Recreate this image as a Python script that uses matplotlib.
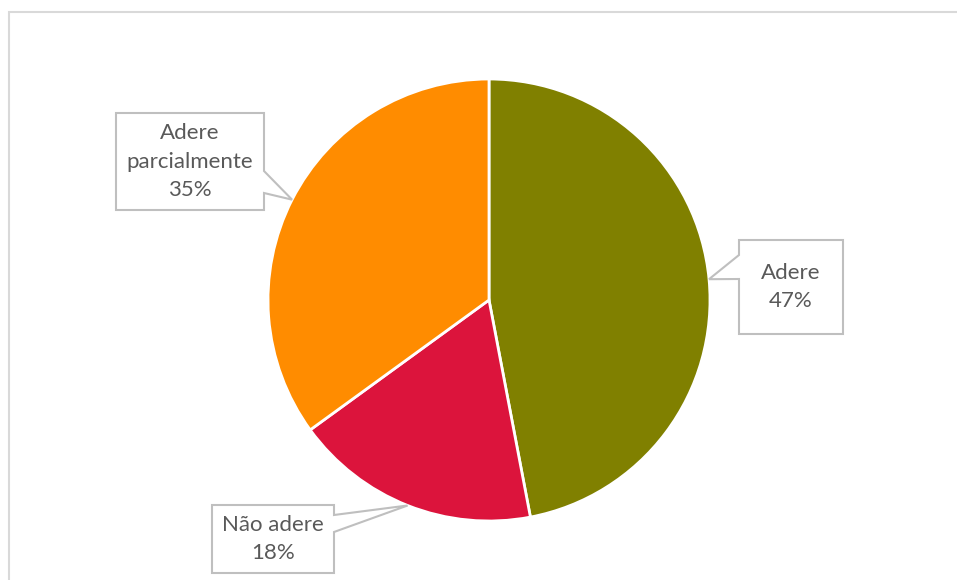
import numpy as np
import matplotlib.pyplot as plt
from matplotlib.patches import Polygon, Rectangle

labels = ["Adere", "Não adere", "Adere\nparcialmente"]
values = [47, 18, 35]
colors = ["#808000", "#DC143C", "#FF8C00"]

W, H = 957, 580
cx, cy, r = 489, H - 300, 221

fig = plt.figure(figsize=(W / 100, H / 100), dpi=100)
ax = fig.add_axes([0, 0, 1, 1])

wedges, _ = ax.pie(values, colors=colors, startangle=90, counterclock=False,
                   center=(cx, cy), radius=r,
                   wedgeprops=dict(edgecolor="white", linewidth=2))

# pie() resets the view, so fix the pixel frame afterwards
ax.set_xlim(0, W)
ax.set_ylim(0, H)
ax.set_aspect("equal")
ax.axis("off")

# chart frame
ax.add_patch(Rectangle((9, -10), W + 10 - 9, H - 12 + 10, fill=False,
                       edgecolor="#d9d9d9", lw=1.5))


def callout(box, tip, side, base):
    # box = (x0, y0, x1, y1) in pixel coords from top; base = span on the side
    x0, y0, x1, y1 = box
    a, b = base
    if side == "left":
        pts = [(x0, y0), (x1, y0), (x1, y1), (x0, y1), (x0, b), tip, (x0, a)]
    else:
        pts = [(x0, y0), (x1, y0), (x1, a), tip, (x1, b), (x1, y1), (x0, y1)]
    pts = [(px, H - py) for px, py in pts]
    ax.add_patch(Polygon(pts, closed=True, facecolor="white",
                         edgecolor="#bfbfbf", lw=1.5, zorder=3))


# label boxes (pixel layout) and pointer bases
boxes = [(739, 240, 843, 334), (212, 505, 334, 573), (116, 113, 264, 210)]
sides = ["left", "right", "right"]
bases = [(255, 279), (515, 532), (171, 193)]

cum = np.cumsum([0] + values)
for i, lab in enumerate(labels):
    mid = (cum[i] + cum[i + 1]) / 2 / 100 * 360
    # tip in pixel coords (y from top)
    tip = (cx + r * np.sin(np.radians(mid)), (H - cy) - r * np.cos(np.radians(mid)))
    callout(boxes[i], tip, sides[i], bases[i])
    x0, y0, x1, y1 = boxes[i]
    ax.text((x0 + x1) / 2, H - (y0 + y1) / 2, f"{lab}\n{values[i]}%",
            ha="center", va="center", fontsize=16, color="#595959",
            family="Lato", linespacing=1.55, zorder=4)

fig.savefig("out.png", dpi=100)
